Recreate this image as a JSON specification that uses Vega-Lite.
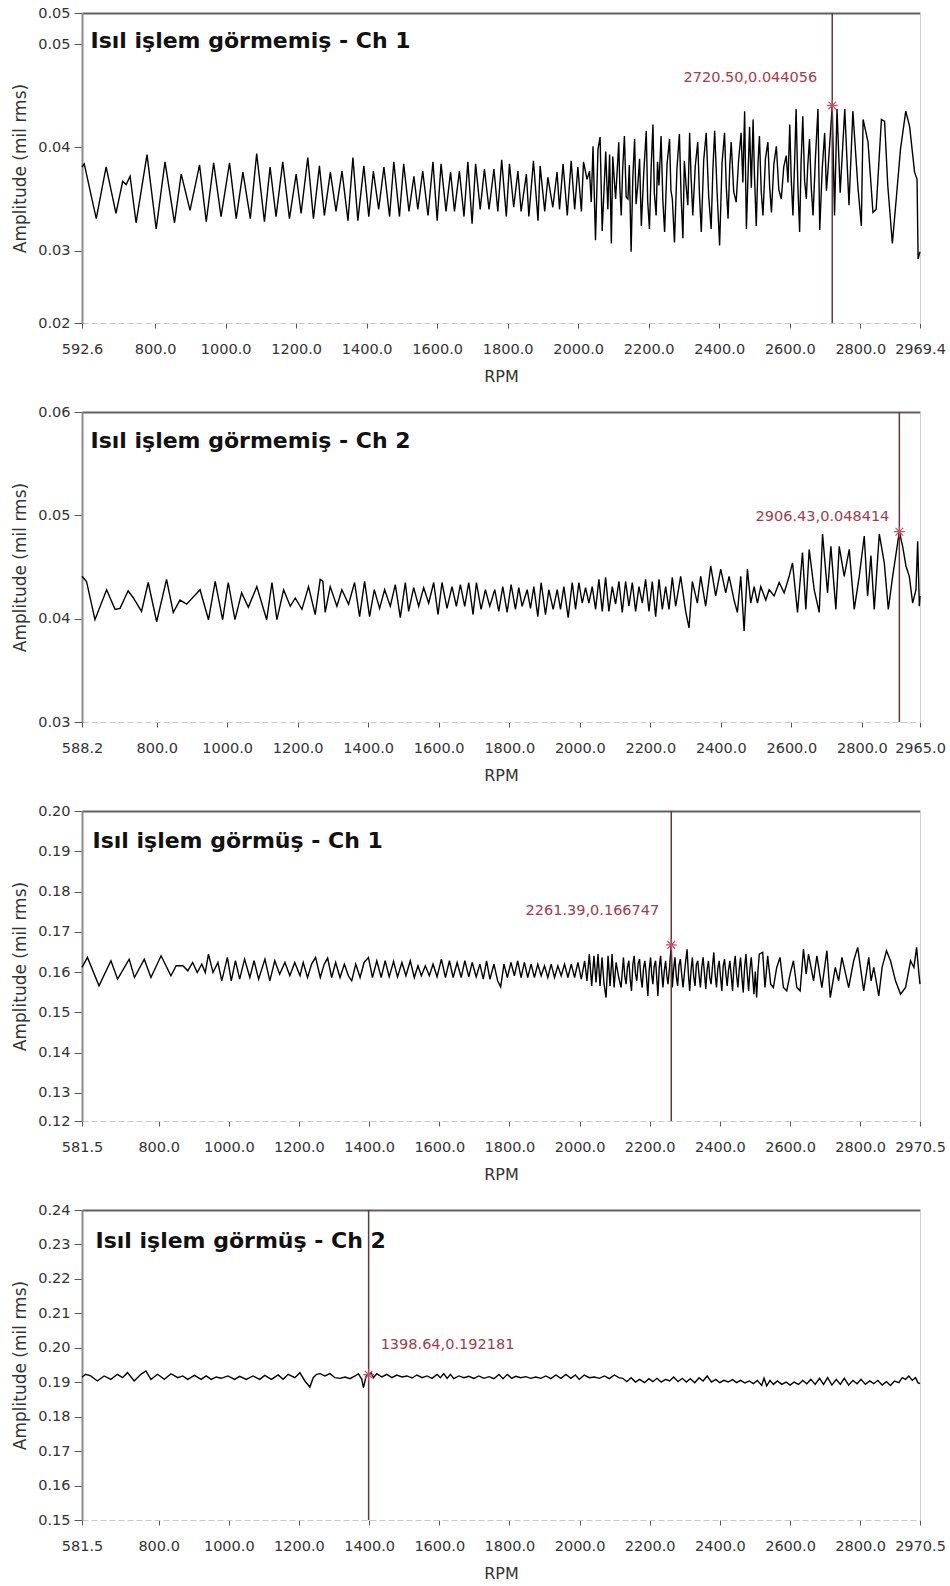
{
"$schema": "https://vega.github.io/schema/vega-lite/v6.json",
"padding": {"left": 11, "top": 5, "right": 5, "bottom": 2},
"background": "white",
"spacing": 19,
"config": {
  "view": {"stroke": null},
  "axis": {"labelFont": "DejaVu Sans", "labelFontSize": 14.5, "labelColor": "#333333", "titleFont": "DejaVu Sans", "titleFontWeight": "normal", "titleColor": "#333333", "tickColor": "#555555", "grid": false, "labelOverlap": false, "labelFlush": false}
},
"datasets": {
"p1": [{"r":592.6,"a":0.0381},{"r":599,"a":0.0384},{"r":633,"a":0.0331},{"r":661,"a":0.0381},{"r":689,"a":0.0336},{"r":708,"a":0.0367},{"r":718,"a":0.0364},{"r":729,"a":0.0372},{"r":746,"a":0.0327},{"r":777,"a":0.0393},{"r":803,"a":0.0321},{"r":828,"a":0.0386},{"r":855,"a":0.0327},{"r":874,"a":0.0374},{"r":899,"a":0.0339},{"r":926,"a":0.0383},{"r":945,"a":0.0328},{"r":966,"a":0.0385},{"r":987,"a":0.0333},{"r":1011,"a":0.0385},{"r":1030,"a":0.0331},{"r":1049,"a":0.0376},{"r":1070,"a":0.0331},{"r":1088,"a":0.0394},{"r":1110,"a":0.0328},{"r":1126,"a":0.0381},{"r":1143,"a":0.0333},{"r":1162,"a":0.0386},{"r":1181,"a":0.0331},{"r":1200,"a":0.0374},{"r":1214,"a":0.0336},{"r":1233,"a":0.039},{"r":1249,"a":0.0331},{"r":1266,"a":0.0382},{"r":1280,"a":0.0334},{"r":1297,"a":0.0376},{"r":1313,"a":0.0338},{"r":1330,"a":0.0377},{"r":1347,"a":0.0329},{"r":1361,"a":0.039},{"r":1375,"a":0.0329},{"r":1392,"a":0.0382},{"r":1406,"a":0.0333},{"r":1419,"a":0.0377},{"r":1434,"a":0.034},{"r":1449,"a":0.0381},{"r":1465,"a":0.0333},{"r":1477,"a":0.0386},{"r":1493,"a":0.0333},{"r":1505,"a":0.0384},{"r":1520,"a":0.0338},{"r":1534,"a":0.0372},{"r":1545,"a":0.034},{"r":1559,"a":0.0377},{"r":1574,"a":0.0334},{"r":1588,"a":0.0386},{"r":1600,"a":0.0329},{"r":1611,"a":0.0384},{"r":1625,"a":0.0338},{"r":1638,"a":0.0376},{"r":1649,"a":0.0338},{"r":1663,"a":0.0377},{"r":1676,"a":0.0333},{"r":1687,"a":0.0386},{"r":1699,"a":0.0326},{"r":1709,"a":0.0384},{"r":1722,"a":0.034},{"r":1734,"a":0.0379},{"r":1747,"a":0.034},{"r":1761,"a":0.0379},{"r":1772,"a":0.0338},{"r":1783,"a":0.0388},{"r":1796,"a":0.0333},{"r":1805,"a":0.0384},{"r":1817,"a":0.0342},{"r":1829,"a":0.0377},{"r":1838,"a":0.0338},{"r":1853,"a":0.0374},{"r":1860,"a":0.0333},{"r":1873,"a":0.0387},{"r":1886,"a":0.0329},{"r":1892,"a":0.0382},{"r":1905,"a":0.0338},{"r":1914,"a":0.0371},{"r":1928,"a":0.0342},{"r":1940,"a":0.0376},{"r":1947,"a":0.034},{"r":1957,"a":0.0384},{"r":1969,"a":0.0334},{"r":1980,"a":0.0387},{"r":1990,"a":0.034},{"r":1999,"a":0.0381},{"r":2009,"a":0.0338},{"r":2015,"a":0.0386},{"r":2025,"a":0.0369},{"r":2032,"a":0.0377},{"r":2037,"a":0.0347},{"r":2042,"a":0.0401},{"r":2049,"a":0.031},{"r":2056,"a":0.0398},{"r":2062,"a":0.041},{"r":2068,"a":0.0319},{"r":2078,"a":0.0396},{"r":2084,"a":0.034},{"r":2089,"a":0.0393},{"r":2094,"a":0.0307},{"r":2098,"a":0.0391},{"r":2106,"a":0.035},{"r":2115,"a":0.0405},{"r":2118,"a":0.0362},{"r":2122,"a":0.0334},{"r":2126,"a":0.0378},{"r":2131,"a":0.0411},{"r":2136,"a":0.0352},{"r":2141,"a":0.035},{"r":2145,"a":0.0383},{"r":2150,"a":0.0299},{"r":2155,"a":0.0372},{"r":2160,"a":0.0408},{"r":2164,"a":0.0345},{"r":2169,"a":0.0363},{"r":2174,"a":0.0389},{"r":2179,"a":0.0324},{"r":2186,"a":0.0376},{"r":2193,"a":0.0416},{"r":2197,"a":0.0348},{"r":2202,"a":0.0321},{"r":2207,"a":0.0381},{"r":2212,"a":0.0422},{"r":2216,"a":0.0355},{"r":2221,"a":0.0334},{"r":2225,"a":0.0386},{"r":2229,"a":0.0363},{"r":2235,"a":0.0411},{"r":2240,"a":0.0349},{"r":2245,"a":0.0318},{"r":2252,"a":0.0384},{"r":2259,"a":0.0408},{"r":2263,"a":0.0358},{"r":2267,"a":0.035},{"r":2273,"a":0.0308},{"r":2280,"a":0.0379},{"r":2287,"a":0.0413},{"r":2292,"a":0.0351},{"r":2297,"a":0.0312},{"r":2301,"a":0.0387},{"r":2306,"a":0.0363},{"r":2311,"a":0.0344},{"r":2316,"a":0.0414},{"r":2320,"a":0.0372},{"r":2325,"a":0.0334},{"r":2332,"a":0.0382},{"r":2339,"a":0.0405},{"r":2344,"a":0.0354},{"r":2349,"a":0.0318},{"r":2356,"a":0.0388},{"r":2363,"a":0.0414},{"r":2370,"a":0.0353},{"r":2377,"a":0.0321},{"r":2382,"a":0.0379},{"r":2387,"a":0.0416},{"r":2394,"a":0.0356},{"r":2401,"a":0.0305},{"r":2408,"a":0.0385},{"r":2415,"a":0.0414},{"r":2420,"a":0.0362},{"r":2425,"a":0.0331},{"r":2430,"a":0.0383},{"r":2434,"a":0.0405},{"r":2441,"a":0.0357},{"r":2448,"a":0.0347},{"r":2455,"a":0.0388},{"r":2462,"a":0.0414},{"r":2467,"a":0.0366},{"r":2472,"a":0.0435},{"r":2477,"a":0.0321},{"r":2482,"a":0.0377},{"r":2486,"a":0.042},{"r":2491,"a":0.0361},{"r":2496,"a":0.0427},{"r":2500,"a":0.0372},{"r":2505,"a":0.0324},{"r":2510,"a":0.0385},{"r":2514,"a":0.0411},{"r":2519,"a":0.0358},{"r":2524,"a":0.0334},{"r":2531,"a":0.0389},{"r":2538,"a":0.0405},{"r":2543,"a":0.0362},{"r":2548,"a":0.0337},{"r":2555,"a":0.0384},{"r":2562,"a":0.0401},{"r":2569,"a":0.0359},{"r":2576,"a":0.035},{"r":2583,"a":0.0381},{"r":2590,"a":0.0392},{"r":2595,"a":0.0366},{"r":2600,"a":0.0422},{"r":2604,"a":0.0371},{"r":2609,"a":0.0334},{"r":2614,"a":0.0388},{"r":2618,"a":0.0437},{"r":2623,"a":0.0362},{"r":2628,"a":0.0318},{"r":2632,"a":0.0384},{"r":2637,"a":0.043},{"r":2642,"a":0.0368},{"r":2647,"a":0.035},{"r":2651,"a":0.0382},{"r":2656,"a":0.0408},{"r":2661,"a":0.0361},{"r":2666,"a":0.0334},{"r":2673,"a":0.0391},{"r":2680,"a":0.0437},{"r":2685,"a":0.032},{"r":2692,"a":0.0379},{"r":2699,"a":0.0414},{"r":2704,"a":0.0358},{"r":2708,"a":0.0376},{"r":2720.5,"a":0.044056},{"r":2727,"a":0.0334},{"r":2734,"a":0.0437},{"r":2743,"a":0.0356},{"r":2756,"a":0.0437},{"r":2768,"a":0.0344},{"r":2779,"a":0.0435},{"r":2793,"a":0.0363},{"r":2803,"a":0.0324},{"r":2808,"a":0.0427},{"r":2822,"a":0.0405},{"r":2836,"a":0.0337},{"r":2845,"a":0.034},{"r":2860,"a":0.0427},{"r":2869,"a":0.0425},{"r":2878,"a":0.0363},{"r":2891,"a":0.0307},{"r":2902,"a":0.035},{"r":2914,"a":0.0398},{"r":2929,"a":0.0435},{"r":2940,"a":0.042},{"r":2954,"a":0.0376},{"r":2961,"a":0.0369},{"r":2964,"a":0.0292},{"r":2969.4,"a":0.0299}],
"p2": [{"r":588.2,"a":0.0441},{"r":601,"a":0.0436},{"r":625,"a":0.0399},{"r":658,"a":0.0428},{"r":682,"a":0.0409},{"r":696,"a":0.041},{"r":719,"a":0.0427},{"r":734,"a":0.042},{"r":757,"a":0.0407},{"r":776,"a":0.0435},{"r":800,"a":0.0397},{"r":828,"a":0.0438},{"r":847,"a":0.0406},{"r":866,"a":0.0418},{"r":885,"a":0.0414},{"r":923,"a":0.0428},{"r":947,"a":0.0399},{"r":966,"a":0.0436},{"r":987,"a":0.0399},{"r":1003,"a":0.0435},{"r":1022,"a":0.0399},{"r":1041,"a":0.0425},{"r":1060,"a":0.0411},{"r":1084,"a":0.0431},{"r":1112,"a":0.0399},{"r":1127,"a":0.0435},{"r":1141,"a":0.0399},{"r":1160,"a":0.0428},{"r":1179,"a":0.0412},{"r":1193,"a":0.042},{"r":1212,"a":0.0409},{"r":1230.7,"a":0.0431},{"r":1249.6,"a":0.0404},{"r":1263.8,"a":0.0438},{"r":1271.4,"a":0.0436},{"r":1278,"a":0.0406},{"r":1292.2,"a":0.0431},{"r":1311.1,"a":0.0412},{"r":1325.3,"a":0.0428},{"r":1344.3,"a":0.0414},{"r":1361.3,"a":0.0435},{"r":1375.5,"a":0.0402},{"r":1389.7,"a":0.0436},{"r":1403.9,"a":0.0402},{"r":1417.2,"a":0.0428},{"r":1432.3,"a":0.041},{"r":1446.5,"a":0.0428},{"r":1462.6,"a":0.0412},{"r":1476.8,"a":0.0433},{"r":1491,"a":0.0401},{"r":1505.2,"a":0.0435},{"r":1514.7,"a":0.0407},{"r":1528.9,"a":0.043},{"r":1543.1,"a":0.0412},{"r":1557.3,"a":0.043},{"r":1571.5,"a":0.0415},{"r":1585.7,"a":0.0435},{"r":1598,"a":0.0404},{"r":1609.3,"a":0.0435},{"r":1623.5,"a":0.041},{"r":1637.7,"a":0.0431},{"r":1650,"a":0.0412},{"r":1661.4,"a":0.0433},{"r":1673.7,"a":0.0412},{"r":1685.1,"a":0.0435},{"r":1697.4,"a":0.0404},{"r":1706.9,"a":0.0435},{"r":1720.1,"a":0.0409},{"r":1732.4,"a":0.0428},{"r":1744.7,"a":0.0412},{"r":1758.9,"a":0.0428},{"r":1770.3,"a":0.0407},{"r":1781.6,"a":0.0431},{"r":1794,"a":0.0406},{"r":1805.3,"a":0.0433},{"r":1817.6,"a":0.0409},{"r":1827.1,"a":0.043},{"r":1836.6,"a":0.0412},{"r":1850.8,"a":0.0428},{"r":1860.2,"a":0.041},{"r":1869.7,"a":0.0431},{"r":1881,"a":0.0402},{"r":1890.5,"a":0.0435},{"r":1902.8,"a":0.0404},{"r":1912.3,"a":0.0428},{"r":1924.6,"a":0.0409},{"r":1936,"a":0.0428},{"r":1945.4,"a":0.0409},{"r":1954.9,"a":0.0431},{"r":1967.2,"a":0.0401},{"r":1978.6,"a":0.0435},{"r":1988,"a":0.0409},{"r":1997.5,"a":0.0435},{"r":2007,"a":0.0415},{"r":2016.4,"a":0.043},{"r":2025.9,"a":0.0415},{"r":2035.4,"a":0.0431},{"r":2044.8,"a":0.0409},{"r":2054.3,"a":0.0438},{"r":2063.8,"a":0.0407},{"r":2073.2,"a":0.044},{"r":2082.7,"a":0.0407},{"r":2092.2,"a":0.0431},{"r":2101.6,"a":0.0414},{"r":2111.1,"a":0.0436},{"r":2120.5,"a":0.0406},{"r":2130,"a":0.0436},{"r":2139.5,"a":0.0412},{"r":2149,"a":0.0435},{"r":2158.4,"a":0.0407},{"r":2167.9,"a":0.0431},{"r":2177.3,"a":0.0415},{"r":2186.8,"a":0.0438},{"r":2196.3,"a":0.0407},{"r":2205.7,"a":0.0436},{"r":2215.2,"a":0.0402},{"r":2224.7,"a":0.0438},{"r":2234.1,"a":0.0409},{"r":2243.6,"a":0.0431},{"r":2253.1,"a":0.0409},{"r":2262.5,"a":0.044},{"r":2272,"a":0.0412},{"r":2286.2,"a":0.0441},{"r":2300.4,"a":0.0407},{"r":2309.9,"a":0.0391},{"r":2319.3,"a":0.0436},{"r":2333.5,"a":0.0415},{"r":2343,"a":0.0441},{"r":2357.2,"a":0.0412},{"r":2371.4,"a":0.0451},{"r":2385.6,"a":0.0422},{"r":2399.8,"a":0.0448},{"r":2414,"a":0.0425},{"r":2423.5,"a":0.0441},{"r":2437.7,"a":0.0418},{"r":2447.1,"a":0.0406},{"r":2456.6,"a":0.0441},{"r":2466.1,"a":0.0388},{"r":2475.5,"a":0.0448},{"r":2485,"a":0.0415},{"r":2494.5,"a":0.0431},{"r":2504,"a":0.0415},{"r":2513.4,"a":0.0431},{"r":2527.6,"a":0.0418},{"r":2537.1,"a":0.0428},{"r":2551.3,"a":0.0422},{"r":2565.5,"a":0.0435},{"r":2579.7,"a":0.0425},{"r":2593.9,"a":0.0441},{"r":2603.4,"a":0.0454},{"r":2617.6,"a":0.0406},{"r":2631.7,"a":0.0464},{"r":2641.2,"a":0.0409},{"r":2650.7,"a":0.0467},{"r":2664.9,"a":0.0428},{"r":2679.1,"a":0.0406},{"r":2688.6,"a":0.0482},{"r":2702.8,"a":0.0425},{"r":2712.2,"a":0.047},{"r":2726.4,"a":0.0409},{"r":2735.9,"a":0.047},{"r":2750.1,"a":0.0441},{"r":2764.3,"a":0.0467},{"r":2778.5,"a":0.0409},{"r":2792.7,"a":0.0441},{"r":2806.9,"a":0.048},{"r":2816.4,"a":0.0422},{"r":2825.8,"a":0.0461},{"r":2835.3,"a":0.0409},{"r":2849.5,"a":0.0482},{"r":2863.7,"a":0.0454},{"r":2875.1,"a":0.0409},{"r":2887.4,"a":0.0441},{"r":2906.43,"a":0.048414},{"r":2915.8,"a":0.047},{"r":2925.2,"a":0.0451},{"r":2934.7,"a":0.0441},{"r":2944.2,"a":0.0415},{"r":2953.6,"a":0.0428},{"r":2958.4,"a":0.0475},{"r":2963.1,"a":0.0412},{"r":2965,"a":0.0422}],
"p3": [{"r":581.5,"a":0.16114},{"r":597,"a":0.16363},{"r":630,"a":0.15657},{"r":664,"a":0.1628},{"r":683,"a":0.15822},{"r":716,"a":0.1632},{"r":731,"a":0.15865},{"r":759,"a":0.1632},{"r":778,"a":0.15865},{"r":807,"a":0.16404},{"r":835,"a":0.15907},{"r":850,"a":0.16156},{"r":869,"a":0.16156},{"r":883,"a":0.16031},{"r":897,"a":0.16238},{"r":910,"a":0.15989},{"r":923,"a":0.16196},{"r":933,"a":0.15989},{"r":942,"a":0.16445},{"r":955,"a":0.15989},{"r":969,"a":0.16238},{"r":980,"a":0.15782},{"r":996,"a":0.16363},{"r":1007,"a":0.15782},{"r":1019,"a":0.1628},{"r":1031,"a":0.15822},{"r":1045,"a":0.1632},{"r":1060,"a":0.15865},{"r":1072,"a":0.1628},{"r":1085,"a":0.15822},{"r":1103,"a":0.1632},{"r":1117,"a":0.15782},{"r":1131,"a":0.1628},{"r":1145,"a":0.15947},{"r":1160,"a":0.16238},{"r":1174,"a":0.15907},{"r":1188,"a":0.16238},{"r":1203,"a":0.15907},{"r":1212.1,"a":0.16238},{"r":1224.5,"a":0.15864},{"r":1236,"a":0.16196},{"r":1247.4,"a":0.16363},{"r":1260.8,"a":0.15864},{"r":1272.2,"a":0.16196},{"r":1281.8,"a":0.16346},{"r":1293.2,"a":0.15864},{"r":1304.6,"a":0.16238},{"r":1317.1,"a":0.15864},{"r":1329.5,"a":0.16196},{"r":1340.9,"a":0.15907},{"r":1350.4,"a":0.15782},{"r":1361.9,"a":0.16196},{"r":1374.3,"a":0.15864},{"r":1385.7,"a":0.16238},{"r":1398.1,"a":0.16363},{"r":1409.6,"a":0.15864},{"r":1422,"a":0.1628},{"r":1434.4,"a":0.15864},{"r":1445.8,"a":0.1628},{"r":1457.3,"a":0.15881},{"r":1469.7,"a":0.16263},{"r":1481.1,"a":0.15881},{"r":1493.5,"a":0.16238},{"r":1505,"a":0.15907},{"r":1517.4,"a":0.1628},{"r":1528.8,"a":0.15864},{"r":1539.3,"a":0.16155},{"r":1548.9,"a":0.15907},{"r":1560.3,"a":0.16155},{"r":1571.8,"a":0.15907},{"r":1582.3,"a":0.16196},{"r":1593.7,"a":0.15881},{"r":1606.1,"a":0.16321},{"r":1617.6,"a":0.15864},{"r":1629,"a":0.1628},{"r":1639.5,"a":0.15864},{"r":1651,"a":0.16238},{"r":1662.4,"a":0.15864},{"r":1672.9,"a":0.1628},{"r":1684.3,"a":0.15881},{"r":1693.9,"a":0.16238},{"r":1705.3,"a":0.15881},{"r":1715.8,"a":0.16196},{"r":1725.4,"a":0.15822},{"r":1734.9,"a":0.1628},{"r":1744.4,"a":0.15822},{"r":1755.9,"a":0.16196},{"r":1766.4,"a":0.15782},{"r":1775,"a":0.15632},{"r":1784.5,"a":0.16196},{"r":1794.1,"a":0.15864},{"r":1804.5,"a":0.16238},{"r":1814.1,"a":0.15907},{"r":1823.6,"a":0.1628},{"r":1833.2,"a":0.15864},{"r":1842.7,"a":0.16238},{"r":1852.2,"a":0.15864},{"r":1861.8,"a":0.16196},{"r":1871.3,"a":0.15864},{"r":1880.9,"a":0.16196},{"r":1890.4,"a":0.15907},{"r":1900,"a":0.16155},{"r":1909.5,"a":0.15864},{"r":1919,"a":0.16196},{"r":1928.6,"a":0.15864},{"r":1938.1,"a":0.16155},{"r":1947.6,"a":0.15907},{"r":1957.2,"a":0.16196},{"r":1966.7,"a":0.15864},{"r":1976.3,"a":0.16196},{"r":1985.8,"a":0.15864},{"r":1995.3,"a":0.16238},{"r":2004.9,"a":0.15822},{"r":2014.4,"a":0.1628},{"r":2021.1,"a":0.15782},{"r":2027.8,"a":0.16446},{"r":2034.5,"a":0.15657},{"r":2041.1,"a":0.16404},{"r":2046.9,"a":0.1574},{"r":2052.6,"a":0.16446},{"r":2058.3,"a":0.15657},{"r":2064,"a":0.16363},{"r":2069.8,"a":0.15698},{"r":2075.5,"a":0.15366},{"r":2081.2,"a":0.16404},{"r":2086.9,"a":0.15657},{"r":2092.7,"a":0.16446},{"r":2098.4,"a":0.15615},{"r":2104.1,"a":0.16238},{"r":2111.7,"a":0.15864},{"r":2118.4,"a":0.15615},{"r":2121.8,"a":0.1601},{"r":2125.1,"a":0.16363},{"r":2128.9,"a":0.1589},{"r":2132.7,"a":0.15698},{"r":2136.5,"a":0.1612},{"r":2140.4,"a":0.1628},{"r":2144.2,"a":0.1583},{"r":2148,"a":0.15533},{"r":2151.8,"a":0.1618},{"r":2155.6,"a":0.16404},{"r":2159.4,"a":0.1596},{"r":2163.2,"a":0.15782},{"r":2167,"a":0.1622},{"r":2170.9,"a":0.1632},{"r":2174.7,"a":0.1587},{"r":2178.5,"a":0.15615},{"r":2182.3,"a":0.1609},{"r":2186.1,"a":0.1628},{"r":2190.4,"a":0.1591},{"r":2194.7,"a":0.15407},{"r":2198.5,"a":0.1606},{"r":2202.4,"a":0.16363},{"r":2205.7,"a":0.1593},{"r":2209,"a":0.15698},{"r":2212.8,"a":0.1615},{"r":2216.7,"a":0.1628},{"r":2220,"a":0.1585},{"r":2223.3,"a":0.15407},{"r":2227.1,"a":0.1611},{"r":2231,"a":0.16404},{"r":2234.3,"a":0.1598},{"r":2237.7,"a":0.15615},{"r":2241.5,"a":0.1603},{"r":2245.3,"a":0.1628},{"r":2248.6,"a":0.1592},{"r":2252,"a":0.15698},{"r":2256.7,"a":0.1614},{"r":2261.39,"a":0.166747},{"r":2264.4,"a":0.15615},{"r":2268.2,"a":0.1608},{"r":2272,"a":0.16363},{"r":2275.8,"a":0.1589},{"r":2279.6,"a":0.15657},{"r":2283.5,"a":0.1617},{"r":2287.3,"a":0.1632},{"r":2291.1,"a":0.1594},{"r":2294.9,"a":0.15615},{"r":2300.6,"a":0.1612},{"r":2306.4,"a":0.16562},{"r":2310.2,"a":0.1596},{"r":2314,"a":0.15533},{"r":2317.8,"a":0.1605},{"r":2321.6,"a":0.16363},{"r":2325.4,"a":0.1588},{"r":2329.2,"a":0.15657},{"r":2333,"a":0.1619},{"r":2336.9,"a":0.1628},{"r":2340.7,"a":0.1592},{"r":2344.5,"a":0.15615},{"r":2348.3,"a":0.1611},{"r":2352.1,"a":0.16363},{"r":2356,"a":0.1597},{"r":2359.8,"a":0.15574},{"r":2363.6,"a":0.1606},{"r":2367.4,"a":0.1628},{"r":2371.2,"a":0.1586},{"r":2375,"a":0.15698},{"r":2378.8,"a":0.1613},{"r":2382.7,"a":0.16487},{"r":2386.5,"a":0.1594},{"r":2390.3,"a":0.15615},{"r":2394.1,"a":0.1609},{"r":2398,"a":0.1628},{"r":2401.8,"a":0.1588},{"r":2405.6,"a":0.15533},{"r":2409.4,"a":0.1615},{"r":2413.2,"a":0.1632},{"r":2417,"a":0.1596},{"r":2420.8,"a":0.15657},{"r":2424.6,"a":0.1604},{"r":2428.5,"a":0.1628},{"r":2432.3,"a":0.1591},{"r":2436.1,"a":0.15533},{"r":2439.9,"a":0.1612},{"r":2443.7,"a":0.16404},{"r":2447.5,"a":0.1593},{"r":2451.4,"a":0.15615},{"r":2455.2,"a":0.1608},{"r":2459,"a":0.16363},{"r":2462.8,"a":0.1587},{"r":2466.6,"a":0.1549},{"r":2470.4,"a":0.1611},{"r":2474.3,"a":0.16445},{"r":2478.1,"a":0.1596},{"r":2481.9,"a":0.15533},{"r":2485.7,"a":0.1607},{"r":2489.5,"a":0.16363},{"r":2493.3,"a":0.1592},{"r":2497.1,"a":0.15448},{"r":2501,"a":0.1601},{"r":2504.8,"a":0.15366},{"r":2508.6,"a":0.1603},{"r":2512.4,"a":0.16445},{"r":2522,"a":0.16487},{"r":2528.6,"a":0.15615},{"r":2536.3,"a":0.16404},{"r":2544.8,"a":0.15698},{"r":2552.5,"a":0.15615},{"r":2562,"a":0.16114},{"r":2571.6,"a":0.16363},{"r":2581.1,"a":0.15615},{"r":2590.6,"a":0.15533},{"r":2600.2,"a":0.15947},{"r":2609.7,"a":0.1628},{"r":2619.3,"a":0.15615},{"r":2628.8,"a":0.15533},{"r":2638.3,"a":0.16571},{"r":2646,"a":0.15947},{"r":2652.7,"a":0.16445},{"r":2667,"a":0.15782},{"r":2676.5,"a":0.16404},{"r":2690.8,"a":0.15615},{"r":2705.1,"a":0.1653},{"r":2714.7,"a":0.15366},{"r":2729,"a":0.16114},{"r":2738.5,"a":0.15782},{"r":2748,"a":0.16363},{"r":2767.1,"a":0.15615},{"r":2781.4,"a":0.1628},{"r":2792.9,"a":0.16612},{"r":2810,"a":0.15533},{"r":2824.4,"a":0.16363},{"r":2831,"a":0.15782},{"r":2838.7,"a":0.16114},{"r":2853,"a":0.15407},{"r":2862.5,"a":0.16114},{"r":2874.9,"a":0.1653},{"r":2886.4,"a":0.1628},{"r":2900.7,"a":0.15782},{"r":2915,"a":0.15448},{"r":2929.3,"a":0.15615},{"r":2943.6,"a":0.1628},{"r":2953.2,"a":0.16114},{"r":2960.8,"a":0.16612},{"r":2967.5,"a":0.15947},{"r":2970.5,"a":0.15698}],
"p4": [{"r":581.5,"a":0.19153},{"r":592,"a":0.19228},{"r":606.3,"a":0.19182},{"r":625.4,"a":0.19036},{"r":644.5,"a":0.19182},{"r":663.6,"a":0.19083},{"r":682.6,"a":0.1923},{"r":697,"a":0.19132},{"r":711.3,"a":0.19278},{"r":730.3,"a":0.19036},{"r":749.4,"a":0.1923},{"r":763.7,"a":0.19327},{"r":778,"a":0.19083},{"r":797.1,"a":0.1923},{"r":816.2,"a":0.19083},{"r":835.3,"a":0.19246},{"r":854.4,"a":0.19132},{"r":868.7,"a":0.19182},{"r":883,"a":0.19083},{"r":902.1,"a":0.192},{"r":921.1,"a":0.19083},{"r":935.5,"a":0.19182},{"r":949.8,"a":0.19083},{"r":964.1,"a":0.19153},{"r":978.4,"a":0.19114},{"r":997.5,"a":0.19182},{"r":1016.5,"a":0.19083},{"r":1030.9,"a":0.19172},{"r":1050,"a":0.19083},{"r":1069,"a":0.19182},{"r":1088.1,"a":0.19083},{"r":1102.4,"a":0.192},{"r":1121.5,"a":0.19083},{"r":1140.6,"a":0.1921},{"r":1154.9,"a":0.19083},{"r":1169.2,"a":0.1923},{"r":1188.3,"a":0.19132},{"r":1202.6,"a":0.19278},{"r":1216.9,"a":0.19036},{"r":1231.2,"a":0.1886},{"r":1240.7,"a":0.19132},{"r":1250.3,"a":0.1923},{"r":1259.8,"a":0.19249},{"r":1274.1,"a":0.19182},{"r":1288.4,"a":0.19249},{"r":1302.7,"a":0.19132},{"r":1317,"a":0.19112},{"r":1331.4,"a":0.19152},{"r":1345.7,"a":0.19103},{"r":1360,"a":0.19182},{"r":1369.5,"a":0.19249},{"r":1379.1,"a":0.19083},{"r":1383.8,"a":0.18841},{"r":1391.5,"a":0.19172},{"r":1398.64,"a":0.192181},{"r":1405.8,"a":0.19278},{"r":1412.5,"a":0.19132},{"r":1422,"a":0.19249},{"r":1436.3,"a":0.19152},{"r":1450.6,"a":0.19228},{"r":1464.9,"a":0.19132},{"r":1479.2,"a":0.19209},{"r":1493.5,"a":0.19152},{"r":1507.9,"a":0.19182},{"r":1522.2,"a":0.19122},{"r":1536.5,"a":0.19209},{"r":1550.8,"a":0.19132},{"r":1565.1,"a":0.19182},{"r":1579.4,"a":0.19112},{"r":1593.7,"a":0.19228},{"r":1603.3,"a":0.19132},{"r":1612.8,"a":0.19249},{"r":1622.3,"a":0.19112},{"r":1631.9,"a":0.19228},{"r":1641.4,"a":0.19103},{"r":1655.7,"a":0.19182},{"r":1670,"a":0.19132},{"r":1684.3,"a":0.19172},{"r":1698.6,"a":0.19112},{"r":1713,"a":0.19182},{"r":1727.3,"a":0.19112},{"r":1741.6,"a":0.19162},{"r":1755.9,"a":0.19103},{"r":1770.2,"a":0.19228},{"r":1781.6,"a":0.19103},{"r":1794.1,"a":0.19228},{"r":1806.5,"a":0.19112},{"r":1817.9,"a":0.19172},{"r":1832.2,"a":0.19132},{"r":1846.5,"a":0.19162},{"r":1860.8,"a":0.19112},{"r":1875.1,"a":0.19152},{"r":1889.5,"a":0.19112},{"r":1903.8,"a":0.19182},{"r":1918.1,"a":0.19103},{"r":1932.4,"a":0.19209},{"r":1946.7,"a":0.19112},{"r":1961,"a":0.19228},{"r":1975.3,"a":0.19112},{"r":1987.7,"a":0.19209},{"r":1999.2,"a":0.19083},{"r":2013.5,"a":0.19209},{"r":2027.8,"a":0.19132},{"r":2042.1,"a":0.19152},{"r":2056.4,"a":0.19112},{"r":2070.7,"a":0.19182},{"r":2085,"a":0.19103},{"r":2099.3,"a":0.19209},{"r":2111.7,"a":0.19132},{"r":2123.2,"a":0.19114},{"r":2134.6,"a":0.19016},{"r":2147,"a":0.19132},{"r":2159.4,"a":0.19006},{"r":2170.9,"a":0.19083},{"r":2185.2,"a":0.18987},{"r":2197.6,"a":0.19104},{"r":2209,"a":0.19016},{"r":2220.5,"a":0.19114},{"r":2232.9,"a":0.19006},{"r":2245.3,"a":0.19083},{"r":2256.7,"a":0.19036},{"r":2268.2,"a":0.19153},{"r":2280.6,"a":0.19016},{"r":2293,"a":0.19114},{"r":2304.4,"a":0.19006},{"r":2315.9,"a":0.19104},{"r":2328.3,"a":0.18987},{"r":2340.7,"a":0.19132},{"r":2352.1,"a":0.19036},{"r":2363.6,"a":0.19182},{"r":2376,"a":0.19006},{"r":2388.4,"a":0.19083},{"r":2399.8,"a":0.18987},{"r":2411.3,"a":0.19054},{"r":2423.7,"a":0.19006},{"r":2436.1,"a":0.19074},{"r":2447.5,"a":0.18987},{"r":2459,"a":0.19054},{"r":2471.4,"a":0.18978},{"r":2483.8,"a":0.19036},{"r":2495.2,"a":0.18958},{"r":2506.7,"a":0.19054},{"r":2519.1,"a":0.18908},{"r":2525.8,"a":0.19114},{"r":2533.4,"a":0.18891},{"r":2543,"a":0.19054},{"r":2552.5,"a":0.18937},{"r":2564,"a":0.19036},{"r":2576.3,"a":0.18937},{"r":2588.7,"a":0.19006},{"r":2600.2,"a":0.18917},{"r":2611.6,"a":0.19006},{"r":2624,"a":0.18937},{"r":2636.4,"a":0.19054},{"r":2647.9,"a":0.18958},{"r":2659.3,"a":0.19083},{"r":2671.7,"a":0.18937},{"r":2684.1,"a":0.19114},{"r":2695.6,"a":0.18937},{"r":2707,"a":0.19132},{"r":2719.4,"a":0.18917},{"r":2731.8,"a":0.19083},{"r":2743.3,"a":0.18937},{"r":2754.7,"a":0.19114},{"r":2767.1,"a":0.18917},{"r":2779.5,"a":0.19054},{"r":2791,"a":0.18958},{"r":2802.4,"a":0.19083},{"r":2814.8,"a":0.18937},{"r":2827.2,"a":0.19036},{"r":2838.7,"a":0.18958},{"r":2850.1,"a":0.19054},{"r":2862.5,"a":0.18917},{"r":2874.9,"a":0.19016},{"r":2886.4,"a":0.18908},{"r":2897.8,"a":0.19036},{"r":2910.2,"a":0.18987},{"r":2919.8,"a":0.19132},{"r":2929.3,"a":0.19083},{"r":2938.9,"a":0.19182},{"r":2948.4,"a":0.19054},{"r":2957.9,"a":0.19132},{"r":2964.6,"a":0.18987},{"r":2970.5,"a":0.18958}],
"c1": [{"r":2720.5,"a":0.044056,"t":"2720.50,0.044056"}],
"c2": [{"r":2906.43,"a":0.048414,"t":"2906.43,0.048414"}],
"c3": [{"r":2261.39,"a":0.166747,"t":"2261.39,0.166747"}],
"c4": [{"r":1398.64,"a":0.192181,"t":"1398.64,0.192181"}]
},
"vconcat": [
{
  "width": 838, "height": 310,
  "layer": [
    {"data": {"name": "p1"}, "mark": {"type": "line", "color": "#000000", "strokeWidth": 1.4},
     "encoding": {
       "x": {"field": "r", "type": "quantitative", "scale": {"domain": [592.6, 2969.4], "nice": false, "zero": false},
             "axis": {"orient": "bottom", "values": [592.6, 800, 1000, 1200, 1400, 1600, 1800, 2000, 2200, 2400, 2600, 2800, 2969.4], "format": ".1f", "title": "RPM", "titleFontSize": 16, "tickSize": 5, "labelPadding": 14, "titlePadding": 13, "domainColor": "#c8c8c8", "domainDash": [6, 3]}},
       "y": {"field": "a", "type": "quantitative", "scale": {"domain": [0.023, 0.053], "nice": false, "zero": false},
             "axis": {"orient": "left", "values": [0.023, 0.03, 0.04, 0.05, 0.053], "format": ".2f", "title": "Amplitude (mil rms)", "titleFontSize": 17, "tickSize": 8, "labelPadding": 4, "titlePadding": 8, "domainColor": "#8c8c8c", "domainWidth": 2}}
     }},
    {"data": {"name": "c1"}, "mark": {"type": "rule", "color": "#5e3a3f", "strokeWidth": 1.5},
     "encoding": {
       "x": {"field": "r", "type": "quantitative", "scale": {"domain": [592.6, 2969.4], "nice": false, "zero": false},
             "axis": {"orient": "top", "labels": false, "ticks": false, "domainColor": "#606060", "domainWidth": 2, "title": "Isıl işlem görmemiş - Ch 1", "titleFontSize": 22, "titleFontWeight": "bold", "titleColor": "#111111", "titleAlign": "left", "titleAnchor": "start", "titleBaseline": "alphabetic", "titleX": 8, "titleY": 34}}
     }},
    {"data": {"name": "c1"}, "mark": {"type": "point", "shape": "M-1,0L1,0M0,-1L0,1M-0.7,-0.7L0.7,0.7M-0.7,0.7L0.7,-0.7", "filled": false, "color": "#c0506a", "size": 120, "strokeWidth": 1.2, "opacity": 1},
     "encoding": {
       "x": {"field": "r", "type": "quantitative", "scale": {"domain": [592.6, 2969.4], "nice": false, "zero": false}, "axis": null},
       "y": {"field": "a", "type": "quantitative", "scale": {"domain": [0.023, 0.053], "nice": false, "zero": false},
             "axis": {"orient": "right", "labels": false, "ticks": false, "title": null, "domainColor": "#d0d0d0", "domainWidth": 1}}
     }},
    {"data": {"name": "c1"}, "mark": {"type": "text", "align": "right", "baseline": "middle", "dx": -15, "dy": -27, "font": "DejaVu Sans", "fontSize": 14.5, "color": "#a33a48"},
     "encoding": {
       "x": {"field": "r", "type": "quantitative", "scale": {"domain": [592.6, 2969.4], "nice": false, "zero": false}, "axis": null},
       "y": {"field": "a", "type": "quantitative", "scale": {"domain": [0.023, 0.053], "nice": false, "zero": false}, "axis": null},
       "text": {"field": "t"}
     }}
  ]
},
{
  "width": 838, "height": 310,
  "layer": [
    {"data": {"name": "p2"}, "mark": {"type": "line", "color": "#000000", "strokeWidth": 1.4},
     "encoding": {
       "x": {"field": "r", "type": "quantitative", "scale": {"domain": [588.2, 2965.0], "nice": false, "zero": false},
             "axis": {"orient": "bottom", "values": [588.2, 800, 1000, 1200, 1400, 1600, 1800, 2000, 2200, 2400, 2600, 2800, 2965.0], "format": ".1f", "title": "RPM", "titleFontSize": 16, "tickSize": 5, "labelPadding": 14, "titlePadding": 13, "domainColor": "#c8c8c8", "domainDash": [6, 3]}},
       "y": {"field": "a", "type": "quantitative", "scale": {"domain": [0.03, 0.06], "nice": false, "zero": false},
             "axis": {"orient": "left", "values": [0.03, 0.04, 0.05, 0.06], "format": ".2f", "title": "Amplitude (mil rms)", "titleFontSize": 17, "tickSize": 8, "labelPadding": 4, "titlePadding": 8, "domainColor": "#8c8c8c", "domainWidth": 2}}
     }},
    {"data": {"name": "c2"}, "mark": {"type": "rule", "color": "#5e3a3f", "strokeWidth": 1.5},
     "encoding": {
       "x": {"field": "r", "type": "quantitative", "scale": {"domain": [588.2, 2965.0], "nice": false, "zero": false},
             "axis": {"orient": "top", "labels": false, "ticks": false, "domainColor": "#606060", "domainWidth": 2, "title": "Isıl işlem görmemiş - Ch 2", "titleFontSize": 22, "titleFontWeight": "bold", "titleColor": "#111111", "titleAlign": "left", "titleAnchor": "start", "titleBaseline": "alphabetic", "titleX": 8, "titleY": 35}}
     }},
    {"data": {"name": "c2"}, "mark": {"type": "point", "shape": "M-1,0L1,0M0,-1L0,1M-0.7,-0.7L0.7,0.7M-0.7,0.7L0.7,-0.7", "filled": false, "color": "#c0506a", "size": 120, "strokeWidth": 1.2, "opacity": 1},
     "encoding": {
       "x": {"field": "r", "type": "quantitative", "scale": {"domain": [588.2, 2965.0], "nice": false, "zero": false}, "axis": null},
       "y": {"field": "a", "type": "quantitative", "scale": {"domain": [0.03, 0.06], "nice": false, "zero": false},
             "axis": {"orient": "right", "labels": false, "ticks": false, "title": null, "domainColor": "#d0d0d0", "domainWidth": 1}}
     }},
    {"data": {"name": "c2"}, "mark": {"type": "text", "align": "right", "baseline": "middle", "dx": -10, "dy": -15, "font": "DejaVu Sans", "fontSize": 14.5, "color": "#a33a48"},
     "encoding": {
       "x": {"field": "r", "type": "quantitative", "scale": {"domain": [588.2, 2965.0], "nice": false, "zero": false}, "axis": null},
       "y": {"field": "a", "type": "quantitative", "scale": {"domain": [0.03, 0.06], "nice": false, "zero": false}, "axis": null},
       "text": {"field": "t"}
     }}
  ]
},
{
  "width": 838, "height": 310,
  "layer": [
    {"data": {"name": "p3"}, "mark": {"type": "line", "color": "#000000", "strokeWidth": 1.4},
     "encoding": {
       "x": {"field": "r", "type": "quantitative", "scale": {"domain": [581.5, 2970.5], "nice": false, "zero": false},
             "axis": {"orient": "bottom", "values": [581.5, 800, 1000, 1200, 1400, 1600, 1800, 2000, 2200, 2400, 2600, 2800, 2970.5], "format": ".1f", "title": "RPM", "titleFontSize": 16, "tickSize": 5, "labelPadding": 14, "titlePadding": 13, "domainColor": "#c8c8c8", "domainDash": [6, 3]}},
       "y": {"field": "a", "type": "quantitative", "scale": {"domain": [0.123, 0.2], "nice": false, "zero": false},
             "axis": {"orient": "left", "values": [0.123, 0.13, 0.14, 0.15, 0.16, 0.17, 0.18, 0.19, 0.2], "format": ".2f", "title": "Amplitude (mil rms)", "titleFontSize": 17, "tickSize": 8, "labelPadding": 4, "titlePadding": 8, "domainColor": "#8c8c8c", "domainWidth": 2}}
     }},
    {"data": {"name": "c3"}, "mark": {"type": "rule", "color": "#5e3a3f", "strokeWidth": 1.5},
     "encoding": {
       "x": {"field": "r", "type": "quantitative", "scale": {"domain": [581.5, 2970.5], "nice": false, "zero": false},
             "axis": {"orient": "top", "labels": false, "ticks": false, "domainColor": "#606060", "domainWidth": 2, "title": "Isıl işlem görmüş - Ch 1", "titleFontSize": 22, "titleFontWeight": "bold", "titleColor": "#111111", "titleAlign": "left", "titleAnchor": "start", "titleBaseline": "alphabetic", "titleX": 10, "titleY": 36}}
     }},
    {"data": {"name": "c3"}, "mark": {"type": "point", "shape": "M-1,0L1,0M0,-1L0,1M-0.7,-0.7L0.7,0.7M-0.7,0.7L0.7,-0.7", "filled": false, "color": "#c0506a", "size": 120, "strokeWidth": 1.2, "opacity": 1},
     "encoding": {
       "x": {"field": "r", "type": "quantitative", "scale": {"domain": [581.5, 2970.5], "nice": false, "zero": false}, "axis": null},
       "y": {"field": "a", "type": "quantitative", "scale": {"domain": [0.123, 0.2], "nice": false, "zero": false},
             "axis": {"orient": "right", "labels": false, "ticks": false, "title": null, "domainColor": "#d0d0d0", "domainWidth": 1}}
     }},
    {"data": {"name": "c3"}, "mark": {"type": "text", "align": "right", "baseline": "middle", "dx": -12, "dy": -34, "font": "DejaVu Sans", "fontSize": 14.5, "color": "#a33a48"},
     "encoding": {
       "x": {"field": "r", "type": "quantitative", "scale": {"domain": [581.5, 2970.5], "nice": false, "zero": false}, "axis": null},
       "y": {"field": "a", "type": "quantitative", "scale": {"domain": [0.123, 0.2], "nice": false, "zero": false}, "axis": null},
       "text": {"field": "t"}
     }}
  ]
},
{
  "width": 838, "height": 310,
  "layer": [
    {"data": {"name": "p4"}, "mark": {"type": "line", "color": "#000000", "strokeWidth": 1.4},
     "encoding": {
       "x": {"field": "r", "type": "quantitative", "scale": {"domain": [581.5, 2970.5], "nice": false, "zero": false},
             "axis": {"orient": "bottom", "values": [581.5, 800, 1000, 1200, 1400, 1600, 1800, 2000, 2200, 2400, 2600, 2800, 2970.5], "format": ".1f", "title": "RPM", "titleFontSize": 16, "tickSize": 5, "labelPadding": 14, "titlePadding": 13, "domainColor": "#c8c8c8", "domainDash": [6, 3]}},
       "y": {"field": "a", "type": "quantitative", "scale": {"domain": [0.15, 0.24], "nice": false, "zero": false},
             "axis": {"orient": "left", "values": [0.15, 0.16, 0.17, 0.18, 0.19, 0.2, 0.21, 0.22, 0.23, 0.24], "format": ".2f", "title": "Amplitude (mil rms)", "titleFontSize": 17, "tickSize": 8, "labelPadding": 4, "titlePadding": 8, "domainColor": "#8c8c8c", "domainWidth": 2}}
     }},
    {"data": {"name": "c4"}, "mark": {"type": "rule", "color": "#5e3a3f", "strokeWidth": 1.5},
     "encoding": {
       "x": {"field": "r", "type": "quantitative", "scale": {"domain": [581.5, 2970.5], "nice": false, "zero": false},
             "axis": {"orient": "top", "labels": false, "ticks": false, "domainColor": "#606060", "domainWidth": 2, "title": "Isıl işlem görmüş - Ch 2", "titleFontSize": 22, "titleFontWeight": "bold", "titleColor": "#111111", "titleAlign": "left", "titleAnchor": "start", "titleBaseline": "alphabetic", "titleX": 13, "titleY": 37}}
     }},
    {"data": {"name": "c4"}, "mark": {"type": "point", "shape": "M-1,0L1,0M0,-1L0,1M-0.7,-0.7L0.7,0.7M-0.7,0.7L0.7,-0.7", "filled": false, "color": "#c0506a", "size": 120, "strokeWidth": 1.2, "opacity": 1},
     "encoding": {
       "x": {"field": "r", "type": "quantitative", "scale": {"domain": [581.5, 2970.5], "nice": false, "zero": false}, "axis": null},
       "y": {"field": "a", "type": "quantitative", "scale": {"domain": [0.15, 0.24], "nice": false, "zero": false},
             "axis": {"orient": "right", "labels": false, "ticks": false, "title": null, "domainColor": "#d0d0d0", "domainWidth": 1}}
     }},
    {"data": {"name": "c4"}, "mark": {"type": "text", "align": "left", "baseline": "middle", "dx": 12, "dy": -30, "font": "DejaVu Sans", "fontSize": 14.5, "color": "#a33a48"},
     "encoding": {
       "x": {"field": "r", "type": "quantitative", "scale": {"domain": [581.5, 2970.5], "nice": false, "zero": false}, "axis": null},
       "y": {"field": "a", "type": "quantitative", "scale": {"domain": [0.15, 0.24], "nice": false, "zero": false}, "axis": null},
       "text": {"field": "t"}
     }}
  ]
}
]
}
